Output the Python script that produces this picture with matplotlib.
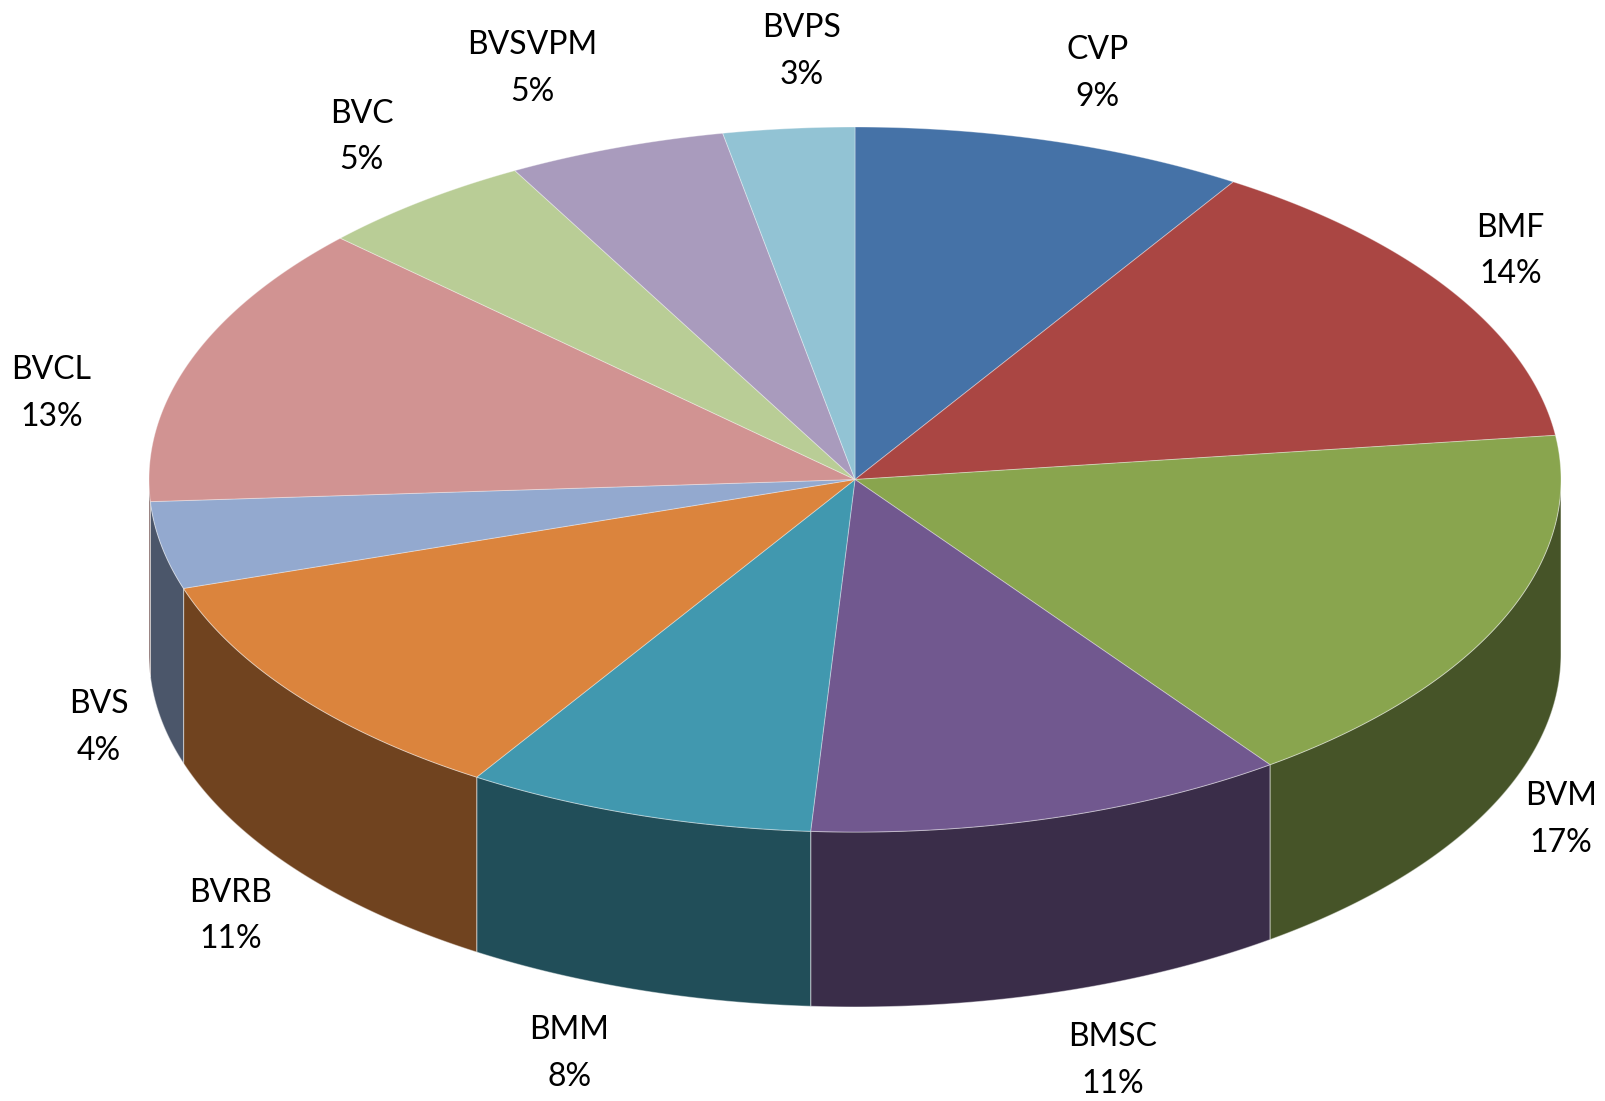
import matplotlib
matplotlib.use("Agg")
import matplotlib.pyplot as plt
from matplotlib.patches import Polygon
import numpy as np

plt.rcParams['font.family'] = ['Lato', 'DejaVu Sans']

labels = ['CVP', 'BMF', 'BVM', 'BMSC', 'BMM', 'BVRB', 'BVS', 'BVCL', 'BVC', 'BVSVPM', 'BVPS']
shares = [9, 14, 17, 11, 8, 11, 4, 13, 5, 5, 3]
colors = ['#4572A7', '#AA4643', '#89A54E', '#71588F', '#4198AF', '#DB843D',
          '#93A9CF', '#D19392', '#B9CD96', '#A99BBD', '#92C3D4']

# label distance factors (x, y) relative to the top ellipse, Excel "best fit"-ish
label_k = [(1.23, 1.20), (1.10, 1.21), (1.09, 1.18), (1.31, 1.20), (1.31, 1.19),
           (1.12, 1.21), (1.09, 1.10), (1.21, 0.72), (1.14, 1.23), (1.35, 1.24),
           (0.80, 1.22)]

W, H = 1606, 1101
cx, cy, rx, ry, depth = 855, 479.5, 706, 352.5, 175

fig = plt.figure(figsize=(W / 100, H / 100), dpi=100)
ax = fig.add_axes([0, 0, 1, 1])
ax.set_xlim(0, W)
ax.set_ylim(H, 0)
ax.axis('off')


def arc(a, b, dy=0, n=200):
    t = np.radians(np.linspace(a, b, n))
    return np.column_stack([cx + rx * np.sin(t), cy - ry * np.cos(t) + dy])


def darker(c, f=0.51):
    rgb = np.array(matplotlib.colors.to_rgb(c))
    return tuple(rgb * f)


vals = np.array(shares, dtype=float)
edges = np.concatenate([[0], np.cumsum(vals)]) / vals.sum() * 360

# outer walls (front half only)
for i in range(len(vals)):
    a, b = max(edges[i], 90), min(edges[i + 1], 270)
    if b <= a:
        continue
    top = arc(a, b)
    bot = arc(a, b, depth)[::-1]
    ax.add_patch(Polygon(np.vstack([top, bot]), closed=True,
                         facecolor=darker(colors[i]), edgecolor=(1, 1, 1, 0.45),
                         linewidth=0.8, zorder=1))

# top faces
for i in range(len(vals)):
    pts = np.vstack([[cx, cy], arc(edges[i], edges[i + 1])])
    ax.add_patch(Polygon(pts, closed=True, facecolor=colors[i],
                         edgecolor=(1, 1, 1, 0.35), linewidth=0.7, zorder=2))

# data labels
for i in range(len(vals)):
    mid = np.radians((edges[i] + edges[i + 1]) / 2)
    kx, ky = label_k[i]
    x = cx + rx * kx * np.sin(mid)
    y = cy - ry * ky * np.cos(mid)
    if np.cos(mid) < 0:
        y += depth
    ax.text(x, y, f"{labels[i]}\n{shares[i]}%", ha='center', va='center',
            fontsize=23, linespacing=1.7, color='black', zorder=3)

fig.savefig('out.png', dpi=100, facecolor='white')
